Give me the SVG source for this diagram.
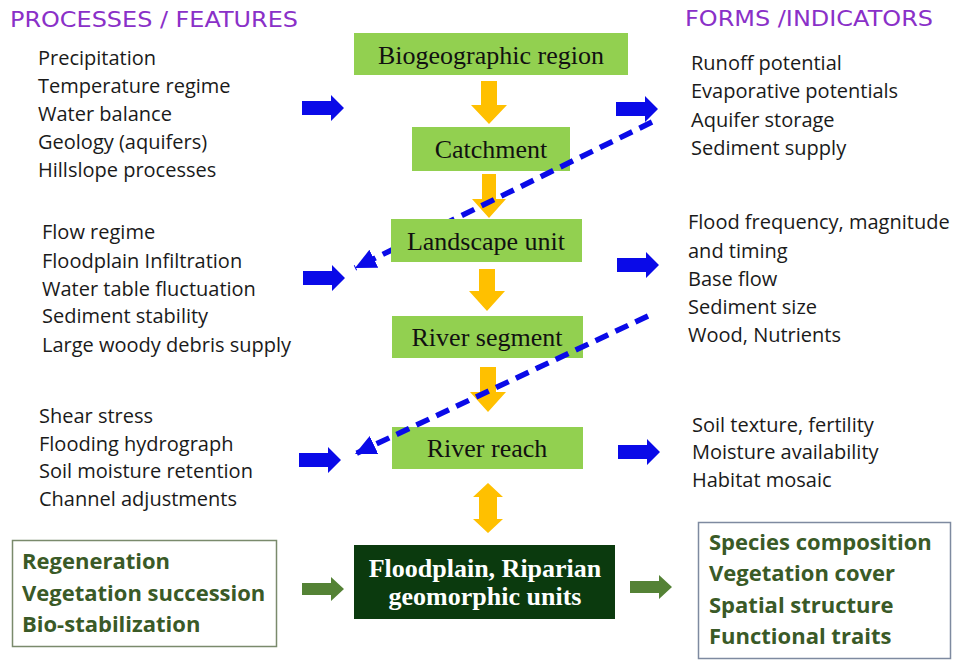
<svg xmlns="http://www.w3.org/2000/svg" width="955" height="660" viewBox="0 0 955 660">
<defs>
<style>
.ttl{font-family:"DejaVu Sans","Liberation Sans",sans-serif;font-size:22px;fill:#8A30C8}
.lst{font-family:"Open Sans","Liberation Sans",sans-serif;font-size:20px;fill:#1a1a1a}
.bld{font-family:"Open Sans","Liberation Sans",sans-serif;font-size:22px;font-weight:bold;fill:#3A5A27}
.box{fill:#92D050}
.lbl{font-family:"Liberation Serif","Times New Roman",serif;font-size:26px;fill:#111;text-anchor:middle}
.wl{font-family:"Liberation Serif","Times New Roman",serif;font-size:26px;font-weight:bold;fill:#fff;text-anchor:middle}
.blue{fill:#0A0AE8}
.grn{fill:#548235}
.org{fill:#FFC000}
.dash{fill:none;stroke:#0A0AE8;stroke-width:5.5;stroke-dasharray:14 8}
</style>
<path id="barrow" d="M0,-7 L29,-7 L29,-13 L42,0 L29,13 L29,7 L0,7 Z"/>
<path id="garrow" d="M0,-6 L29,-6 L29,-12 L42,0 L29,12 L29,6 L0,6 Z"/>
<marker id="tri" markerUnits="userSpaceOnUse" markerWidth="24" markerHeight="22" refX="21" refY="10" orient="auto">
<path d="M0,0 L21,10 L0,20 Z" fill="#0A0AE8"/>
</marker>
</defs>
<rect width="955" height="660" fill="#fff"/>

<text class="ttl" x="10" y="27" textLength="288" lengthAdjust="spacingAndGlyphs">PROCESSES / FEATURES</text>
<text class="ttl" x="685" y="26" textLength="248" lengthAdjust="spacingAndGlyphs">FORMS /INDICATORS</text>

<g id="left-top-list">
<text class="lst" x="38" y="65">Precipitation</text>
<text class="lst" x="38" y="93">Temperature regime</text>
<text class="lst" x="38" y="121">Water balance</text>
<text class="lst" x="38" y="149">Geology (aquifers)</text>
<text class="lst" x="38" y="177">Hillslope processes</text>
</g>
<g id="right-top-list">
<text class="lst" x="691" y="70">Runoff potential</text>
<text class="lst" x="691" y="98">Evaporative potentials</text>
<text class="lst" x="691" y="127">Aquifer storage</text>
<text class="lst" x="691" y="155">Sediment supply</text>
</g>
<g id="left-mid-list">
<text class="lst" x="42" y="239">Flow regime</text>
<text class="lst" x="42" y="268">Floodplain Infiltration</text>
<text class="lst" x="42" y="296">Water table fluctuation</text>
<text class="lst" x="42" y="323">Sediment stability</text>
<text class="lst" x="42" y="352">Large woody debris supply</text>
</g>
<g id="right-mid-list">
<text class="lst" x="688" y="229">Flood frequency, magnitude</text>
<text class="lst" x="688" y="258">and timing</text>
<text class="lst" x="688" y="286">Base flow</text>
<text class="lst" x="688" y="314">Sediment size</text>
<text class="lst" x="688" y="342">Wood, Nutrients</text>
</g>
<g id="left-bot-list">
<text class="lst" x="39" y="423">Shear stress</text>
<text class="lst" x="39" y="451">Flooding hydrograph</text>
<text class="lst" x="39" y="478">Soil moisture retention</text>
<text class="lst" x="39" y="506">Channel adjustments</text>
</g>
<g id="right-bot-list">
<text class="lst" x="692" y="432">Soil texture, fertility</text>
<text class="lst" x="692" y="459">Moisture availability</text>
<text class="lst" x="692" y="487">Habitat mosaic</text>
</g>

<g id="veg-processes">
<rect x="12.5" y="540.5" width="264" height="106" fill="#fff" stroke="#7A8A6C" stroke-width="1.5"/>
<text class="bld" x="22" y="569">Regeneration</text>
<text class="bld" x="22" y="601">Vegetation succession</text>
<text class="bld" x="22" y="632">Bio-stabilization</text>
</g>
<g id="veg-forms">
<rect x="698.5" y="522.5" width="252" height="136" fill="#fff" stroke="#7E8AA0" stroke-width="1.5"/>
<text class="bld" x="709" y="550">Species composition</text>
<text class="bld" x="709" y="581">Vegetation cover</text>
<text class="bld" x="709" y="613">Spatial structure</text>
<text class="bld" x="709" y="644">Functional traits</text>
</g>

<g id="biogeographic-region">
<rect class="box" x="354" y="33" width="274" height="42"/>
<text class="lbl" x="491" y="64">Biogeographic region</text>
</g>
<g id="catchment">
<rect class="box" x="412" y="127" width="158" height="44"/>
<text class="lbl" x="491" y="158">Catchment</text>
</g>
<g id="river-segment">
<rect class="box" x="392" y="316" width="191" height="42"/>
<text class="lbl" x="487" y="346">River segment</text>
</g>
<g id="river-reach">
<rect class="box" x="392" y="427" width="191" height="42"/>
<text class="lbl" x="487" y="457">River reach</text>
</g>
<g id="floodplain">
<rect x="354" y="545" width="261" height="74" fill="#0B3A0E"/>
<text class="wl" x="485" y="577">Floodplain, Riparian</text>
<text class="wl" x="485" y="605">geomorphic units</text>
</g>

<g id="connectors">
<path class="org" d="M481,81 H497 V105 H507 L489,124 L471,105 H481 Z"/>
<path class="org" d="M482,174 H496 V199 H506 L489,218 L472,199 H482 Z"/>
<path class="org" d="M479,269 H495 V291 H505 L487,311 L469,291 H479 Z"/>
<path class="org" d="M480,367 H496 V392 H506 L488,412 L470,392 H480 Z"/>
<path class="org" d="M488,483 L503,497 H497 V519 H503 L488,533 L473,519 H479 V497 H473 Z"/>
<use href="#barrow" class="blue" x="302" y="108"/>
<use href="#barrow" class="blue" x="616" y="109"/>
<use href="#barrow" class="blue" x="303" y="278"/>
<use href="#barrow" class="blue" x="617" y="265"/>
<use href="#barrow" class="blue" x="299" y="460"/>
<use href="#barrow" class="blue" x="618" y="452"/>
<use href="#garrow" class="grn" x="302" y="589"/>
<use href="#garrow" class="grn" x="630" y="587"/>
<line class="dash" x1="652" y1="122" x2="355" y2="268" marker-end="url(#tri)"/>
<line class="dash" x1="648" y1="316" x2="355" y2="454" marker-end="url(#tri)"/>
</g>

<g id="landscape-unit">
<rect class="box" x="391" y="219" width="191" height="43"/>
<text class="lbl" x="486" y="250">Landscape unit</text>
</g>
</svg>
